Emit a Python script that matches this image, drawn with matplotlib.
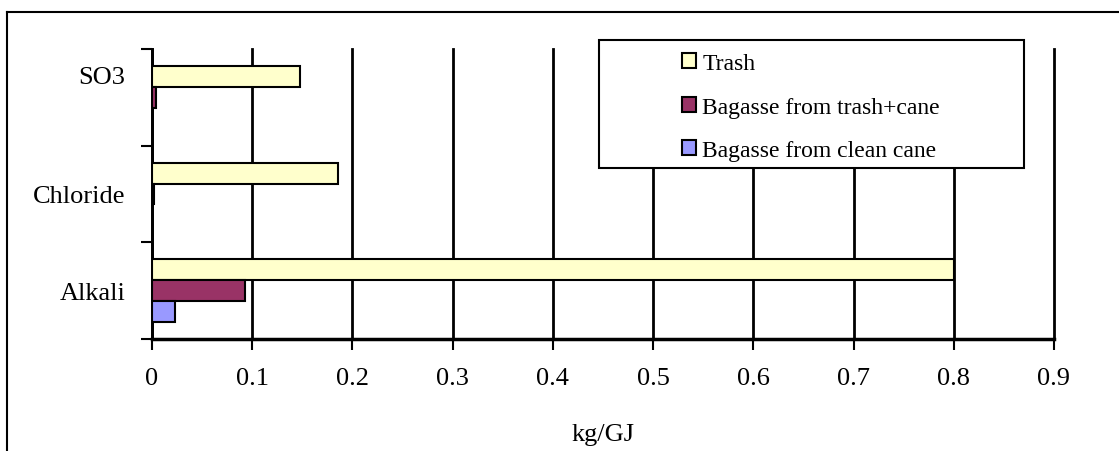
import numpy as np
import matplotlib.pyplot as plt
import matplotlib.transforms as mtransforms
from matplotlib.lines import Line2D
from matplotlib.patches import Rectangle

plt.rcParams['font.family'] = ['Liberation Serif', 'DejaVu Serif']

categories = ['Alkali', 'Chloride', 'SO3']
series_names = ['Trash', 'Bagasse from trash+cane', 'Bagasse from clean cane']
trash = [0.80, 0.186, 0.148]
bagasse_trash_cane = [0.093, 0.002, 0.004]
bagasse_clean_cane = [0.023, 0.0, 0.0]
colors = ['#FFFFCC', '#993366', '#9999FF']

W, H = 1119, 452
fig = plt.figure(figsize=(W / 100, H / 100), dpi=100)
ax = fig.add_axes([152 / W, 1 - 340 / H, 902 / W, 290 / H])

y = np.arange(len(categories))
h = 0.217
series = [trash, bagasse_trash_cane, bagasse_clean_cane]
for i, (vals, name, c) in enumerate(zip(series, series_names, colors)):
    ax.barh(y + h - i * h, vals, height=h, color=c, edgecolor='black',
            linewidth=1.5, label=name, zorder=3)

ax.set_xlim(0, 0.9)
ax.set_ylim(-0.5, 2.5)
ax.set_xticks(np.arange(0, 0.91, 0.1))
ax.set_xticklabels(['0'] + [f'{v:.1f}' for v in np.arange(0.1, 0.91, 0.1)])
ax.set_yticks(y)
ax.set_yticklabels(categories)
ax.set_yticks(np.arange(-0.5, 2.6, 1), minor=True)
ax.tick_params(axis='y', which='major', length=0, pad=19, labelsize=19)
ax.tick_params(axis='y', which='minor', length=8, width=1.5, direction='out')
ax.tick_params(axis='x', length=8, width=1.5, direction='out', pad=12, labelsize=19)
ax.xaxis.grid(True, color='black', linewidth=2, zorder=0)
for gl in ax.get_xgridlines():
    gl.set_clip_on(False)
ax.set_axisbelow(True)
for s in ['top', 'right']:
    ax.spines[s].set_visible(False)
ax.spines['left'].set_linewidth(2)
ax.spines['bottom'].set_linewidth(2.5)
ax.set_xlabel('kg/GJ', fontsize=19, labelpad=25)

# top category label sits higher in the original
lab = ax.get_yticklabels()[2]
lab.set_transform(lab.get_transform() +
                  mtransforms.ScaledTranslation(0, 0.23, fig.dpi_scale_trans))

# legend box
box = Rectangle((599 / W, 1 - 169 / H), 425 / W, 128 / H, transform=fig.transFigure,
                facecolor='white', edgecolor='black', linewidth=1.5, zorder=4,
                clip_on=False)
ax.add_patch(box)
leg = ax.legend(loc='upper left', bbox_to_anchor=(675 / W, 1 - 47 / H),
                bbox_transform=fig.transFigure, fontsize=17, frameon=False,
                handlelength=0.6, handleheight=0.6, handletextpad=0.25,
                labelspacing=0.95, borderpad=0.3, borderaxespad=0)
leg.set_zorder(5)

# outer chart border
fig.add_artist(Line2D([7 / W, 7 / W], [0, 1 - 13 / H],
                      transform=fig.transFigure, color='black', linewidth=1.5))
fig.add_artist(Line2D([7 / W, 1], [1 - 13 / H, 1 - 13 / H],
                      transform=fig.transFigure, color='black', linewidth=1.5))

fig.savefig('out.png', dpi=100)
